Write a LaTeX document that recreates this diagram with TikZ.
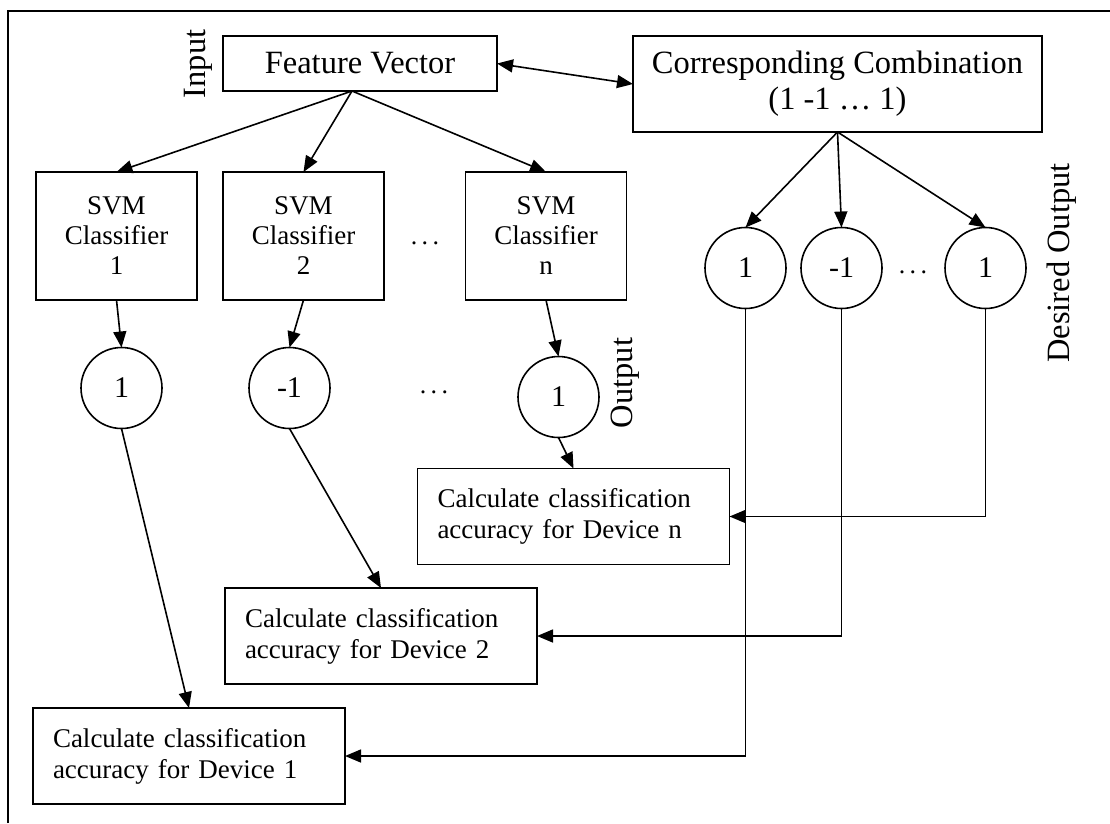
\documentclass[tikz,border=0pt]{standalone}
\usepackage{fontspec}
\setmainfont{Liberation Serif}
\usetikzlibrary{arrows.meta,calc}
\begin{document}
\begin{tikzpicture}[x=1pt,y=-1pt,
  every node/.style={inner sep=0pt, outer sep=0pt},
  box/.style={draw, rectangle, line width=1.6pt, align=center},
  big/.style={font=\fontsize{32.5}{36}\selectfont},
  small/.style={font=\fontsize{27}{30}\selectfont},
  circ/.style={draw, circle, line width=1.6pt, minimum size=81pt, font=\fontsize{30}{30}\selectfont},
  calcbox/.style={box, align=left, text width=272pt, inner xsep=20pt, minimum height=96pt, font=\fontsize{27}{31}\selectfont},
  tip/.tip={Triangle[length=16pt,width=13pt]},
  arr/.style={line width=1.6pt, -tip},
  lbl/.style={rotate=90, big},
  dotsl/.style={font=\fontsize{26}{28}\selectfont}
]
\useasboundingbox (0,0) rectangle (1110,823);
\draw[line width=2.4pt] (8,823) -- (8,11) -- (1110,11);

% top boxes
\node[box, big, minimum width=274pt, minimum height=55pt] (fv) at (360,63.5) {Feature Vector};
\node[box, big, minimum width=409pt, minimum height=96pt] (cc) at (837.5,84) {Corresponding Combination\\(1 -1 … 1)};
\node[lbl] (inp) at (198,64) {Input};

% SVM classifiers
\node[box, small, minimum width=161pt, minimum height=128pt] (svm1) at (116.5,236) {SVM\\Classifier\\1};
\node[box, small, minimum width=161pt, minimum height=128pt] (svm2) at (303.5,236) {SVM\\Classifier\\2};
\node[box, small, minimum width=161pt, minimum height=128pt] (svmn) at (546,236) {SVM\\Classifier\\n};
\node[dotsl] (sdots) at (425,243) {.\,.\,.};

% output circles
\node[circ] (c1) at (121.5,388) {1};
\node[circ] (c2) at (289.5,388) {-1};
\node[circ] (cn) at (558.5,397) {1};
\node[dotsl] (cdots) at (434,392) {.\,.\,.};
\node[lbl] (outl) at (625,383) {Output};

% desired circles
\node[circ] (d1) at (745.5,268) {1};
\node[circ] (d2) at (841.5,268) {-1};
\node[circ] (d3) at (985.5,268) {1};
\node[dotsl] (ddots) at (913,272) {.\,.\,.};
\node[lbl] (desl) at (1062,263) {Desired Output};

% calculation boxes
\node[calcbox] (calcn) at (573.5,516.5) {Calculate classification\\accuracy for Device n};
\node[calcbox] (calc2) at (381,636) {Calculate classification\\accuracy for Device 2};
\node[calcbox] (calc1) at (189,756) {Calculate classification\\accuracy for Device 1};

% connectors
\draw[line width=1.6pt, tip-tip] (fv.east) -- (cc.west);
\coordinate (fvs) at ($(fv.south)+(-8,0)$);
\draw[arr] (fvs) -- (svm1.north);
\draw[arr] (fvs) -- (svm2.north);
\draw[arr] (fvs) -- (svmn.north);
\draw[arr] (cc.south) -- (d1.north);
\draw[arr] (cc.south) -- (d2.north);
\draw[arr] (cc.south) -- (d3.north);
\draw[arr] (svm1.south) -- (c1.north);
\draw[arr] (svm2.south) -- (c2.north);
\draw[arr] (svmn.south) -- (cn.north);
\draw[arr] (c1.south) -- (calc1.north);
\draw[arr] (c2.south) -- (calc2.north);
\draw[arr] (cn.south) -- (calcn.north);
\draw[arr] (d3.south) |- (calcn.east);
\draw[arr] (d2.south) |- (calc2.east);
\draw[arr] (d1.south) |- (calc1.east);
\end{tikzpicture}
\end{document}
